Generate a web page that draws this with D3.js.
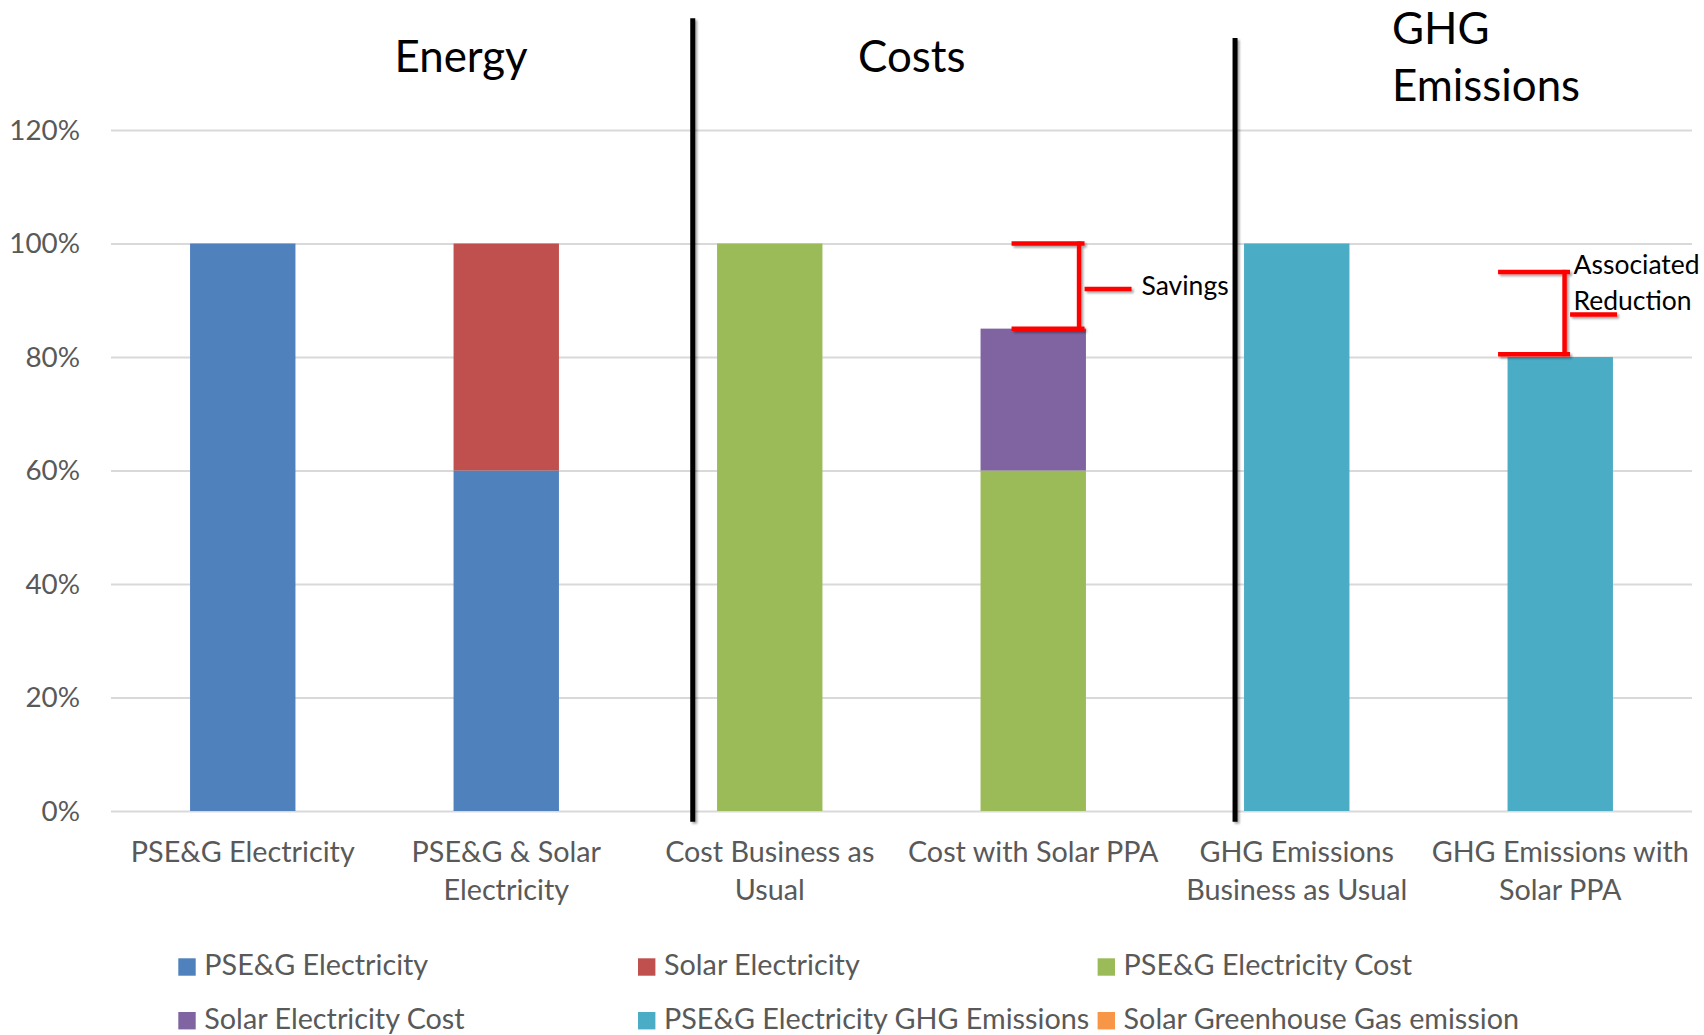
<!DOCTYPE html>
<html><head><meta charset="utf-8">
<script src="https://cdn.jsdelivr.net/npm/d3@7"></script>
<style>html,body{margin:0;padding:0;background:#fff;} svg{display:block;}</style>
</head><body><svg id="chart" width="1704" height="1035"></svg>
<script>
// ---------------- data ----------------
const categories = [
  "PSE&G Electricity", "PSE&G & Solar Electricity", "Cost Business as Usual",
  "Cost with Solar PPA", "GHG Emissions Business as Usual", "GHG Emissions with Solar PPA"
];
const categoryLabelLines = [
  ["PSE&G Electricity"], ["PSE&G & Solar", "Electricity"], ["Cost Business as", "Usual"],
  ["Cost with Solar PPA"], ["GHG Emissions", "Business as Usual"], ["GHG Emissions with", "Solar PPA"]
];
const seriesNames = [
  "PSE&G Electricity", "Solar Electricity", "PSE&G Electricity Cost",
  "Solar Electricity Cost", "PSE&G Electricity GHG Emissions", "Solar Greenhouse Gas emission"
];
const seriesColors = ["#4F81BD", "#C0504D", "#9BBB59", "#8064A2", "#4BACC6", "#F79646"];
const psegElectricity      = [1.00, 0.60, 0,    0,    0,    0];
const solarElectricity     = [0,    0.40, 0,    0,    0,    0];
const psegElectricityCost  = [0,    0,    1.00, 0.60, 0,    0];
const solarElectricityCost = [0,    0,    0,    0.25, 0,    0];
const psegGhgEmissions     = [0,    0,    0,    0,    1.00, 0.80];
const solarGhgEmission     = [0,    0,    0,    0,    0,    0];
const yTickValues = [0, 0.2, 0.4, 0.6, 0.8, 1.0, 1.2];
const sectionTitles = [["Energy"], ["Costs"], ["GHG", "Emissions"]];
const savingsLabel = ["Savings"];
const reductionLabel = ["Associated", "Reduction"];
const savingsRange = [1.00, 0.85, 0.92];     // top, bottom, pointer
const reductionRange = [0.95, 0.805, 0.875]; // top, bottom, pointer

// ---------------- setup ----------------
const W = 1704, H = 1035;
const plot = {left: 111, right: 1692, top: 130, bottom: 811};
const svg = d3.select("#chart");
const FONT = "Lato, 'Open Sans', 'DejaVu Sans', sans-serif";

// calibrate font so text widths match the original (Calibri-like) widths
const probe = svg.append("text").attr("font-family", FONT).attr("font-size", 100).text("PSE&G Electricity");
const probeW = probe.node().getComputedTextLength();
probe.remove();
const fs = s => s * (224 / 31.5) * 100 / probeW;

const defs = svg.append("defs");
const f = defs.append("filter").attr("id", "shadow").attr("filterUnits", "userSpaceOnUse")
  .attr("x", 0).attr("y", 0).attr("width", W).attr("height", H);
f.append("feDropShadow").attr("dx", 2).attr("dy", 2).attr("stdDeviation", 1.2)
  .attr("flood-color", "#000").attr("flood-opacity", 0.35);

const x = d3.scaleBand().domain(categories).range([plot.left, plot.right])
  .paddingInner(0.6).paddingOuter(0.3);
const y = d3.scaleLinear().domain([0, 1.2]).range([plot.bottom, plot.top]);

// ---------------- y axis + grid ----------------
const yAxis = d3.axisLeft(y).tickValues(yTickValues).tickFormat(d3.format(".0%"))
  .tickSize(-(plot.right - plot.left)).tickPadding(31);
const gy = svg.append("g").attr("transform", `translate(${plot.left},0)`).call(yAxis);
gy.select(".domain").remove();
gy.selectAll(".tick line").attr("stroke", "#D9D9D9").attr("stroke-width", 2);
gy.selectAll(".tick text").attr("font-family", FONT).attr("font-size", fs(30.5))
  .attr("fill", "#595959").attr("dy", "0.34em");

// ---------------- bars ----------------
const table = categories.map((c, i) => ({
  category: c,
  [seriesNames[0]]: psegElectricity[i],
  [seriesNames[1]]: solarElectricity[i],
  [seriesNames[2]]: psegElectricityCost[i],
  [seriesNames[3]]: solarElectricityCost[i],
  [seriesNames[4]]: psegGhgEmissions[i],
  [seriesNames[5]]: solarGhgEmission[i]
}));
const stacked = d3.stack().keys(seriesNames)(table);
const color = d3.scaleOrdinal().domain(seriesNames).range(seriesColors);
svg.append("g").selectAll("g").data(stacked).join("g")
  .attr("fill", d => color(d.key))
  .selectAll("rect").data(d => d.filter(p => p[1] - p[0] > 0)).join("rect")
  .attr("x", d => x(d.data.category))
  .attr("width", x.bandwidth())
  .attr("y", d => y(d[1]))
  .attr("height", d => y(d[0]) - y(d[1]));

// ---------------- x axis labels ----------------
const xAxis = d3.axisBottom(x).tickSize(0).tickPadding(0);
const gx = svg.append("g").attr("transform", `translate(0,${plot.bottom})`).call(xAxis);
gx.select(".domain").remove();
gx.selectAll(".tick text").each(function(d, i) {
  const t = d3.select(this);
  t.text(null).attr("y", 0).attr("dy", null)
    .attr("font-family", FONT).attr("font-size", fs(31.5)).attr("fill", "#595959");
  categoryLabelLines[i].forEach((line, j) => {
    t.append("tspan").attr("x", 0).attr("y", 50.7 + j * 38.3).text(line);
  });
});

// ---------------- section separators ----------------
const separators = [
  {x: x(categories[2]) - 24.3, top: 18.3},
  {x: x(categories[4]) - 9, top: 38}
];
svg.append("g").attr("filter", "url(#shadow)").selectAll("line").data(separators).join("line")
  .attr("x1", d => d.x).attr("x2", d => d.x)
  .attr("y1", d => d.top).attr("y2", plot.bottom + 10.7)
  .attr("stroke", "#000").attr("stroke-width", 5);

// ---------------- section titles ----------------
const titlePos = [
  {x: x(categories[1]) - 59, y: 72},
  {x: x(categories[3]) - 122.5, y: 72},
  {x: x(categories[4]) + 148, y: 43.5}
];
sectionTitles.forEach((lines, i) => {
  const t = svg.append("text").attr("font-family", FONT).attr("font-size", fs(48)).attr("fill", "#000");
  lines.forEach((line, j) => t.append("tspan").attr("x", titlePos[i].x).attr("y", titlePos[i].y + j * 57.5).text(line));
});

// ---------------- annotation brackets ----------------
function bracket(cat, range, o) {
  const bx = x(cat);
  const g = svg.append("g").attr("stroke", "#FF0000").attr("stroke-width", 4.5)
    .attr("fill", "none").attr("filter", "url(#shadow)");
  g.append("line").attr("x1", bx + o.h0).attr("x2", bx + o.h1).attr("y1", y(range[0])).attr("y2", y(range[0]));
  g.append("line").attr("x1", bx + o.h0).attr("x2", bx + o.h1).attr("y1", y(range[1])).attr("y2", y(range[1]));
  g.append("line").attr("x1", bx + o.v).attr("x2", bx + o.v).attr("y1", y(range[0]) - 2).attr("y2", y(range[1]) + 2);
  g.append("line").attr("x1", bx + o.p0).attr("x2", bx + o.p1).attr("y1", y(range[2])).attr("y2", y(range[2]));
}
bracket(categories[3], savingsRange, {h0: 31, h1: 104, v: 98.5, p0: 104, p1: 151});
bracket(categories[5], reductionRange, {h0: -9.5, h1: 62.5, v: 57, p0: 62.5, p1: 109.5});

const sv = svg.append("text").attr("font-family", FONT).attr("font-size", fs(29)).attr("fill", "#000");
savingsLabel.forEach((l, j) => sv.append("tspan").attr("x", x(categories[3]) + 161).attr("y", 295 + j * 36).text(l));
const rd = svg.append("text").attr("font-family", FONT).attr("font-size", fs(29)).attr("fill", "#000");
reductionLabel.forEach((l, j) => rd.append("tspan").attr("x", x(categories[5]) + 66).attr("y", 274 + j * 36).text(l));

// ---------------- legend ----------------
const legendCols = [178.3, 638, 1097.6];
const legendRows = [958.3, 1012];
const lg = svg.append("g").selectAll("g").data(seriesNames).join("g")
  .attr("transform", (d, i) => `translate(${legendCols[i % 3]},${legendRows[Math.floor(i / 3)]})`);
lg.append("rect").attr("width", 17.4).attr("height", 17.4).attr("fill", d => color(d));
lg.append("text").attr("x", 26).attr("y", 17).attr("font-family", FONT).attr("font-size", fs(31.5))
  .attr("fill", "#595959").text(d => d);
</script></body></html>
